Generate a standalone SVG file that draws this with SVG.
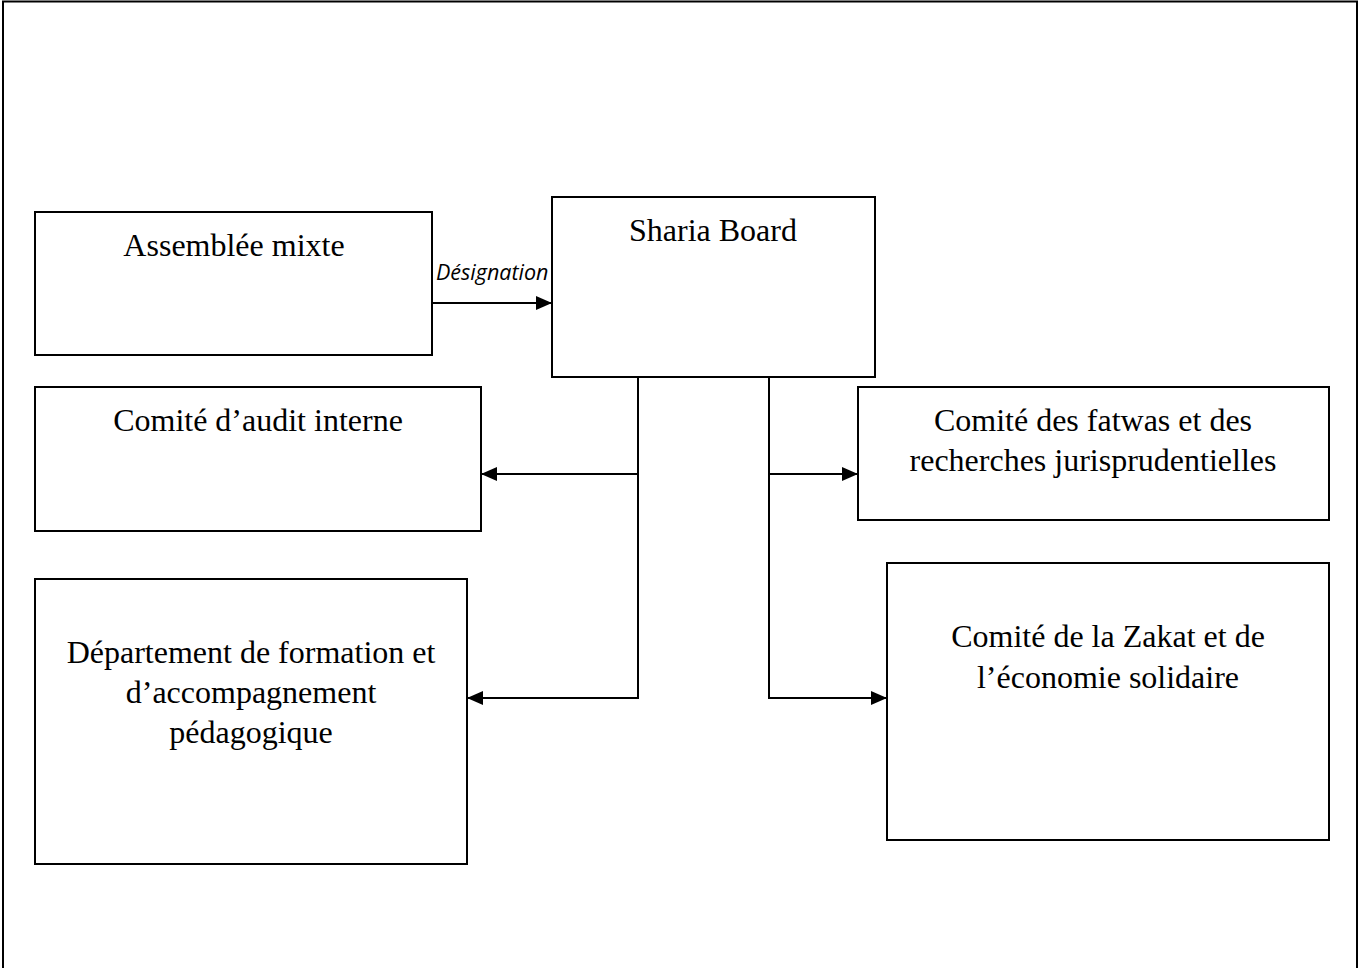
<svg xmlns="http://www.w3.org/2000/svg" width="1360" height="968" viewBox="0 0 1360 968">
<style>
.box{fill:#fff;stroke:#000;stroke-width:2}
.t{font-family:"Liberation Serif","Times New Roman",serif;font-size:32px;fill:#000;text-anchor:middle}
.c{fill:none;stroke:#000;stroke-width:2}
.lbl{font-family:"Open Sans","DejaVu Sans",sans-serif;font-style:italic;font-size:21.5px;fill:#000}
</style>
<defs>
<marker id="ah" markerWidth="16" markerHeight="14" refX="15" refY="7" orient="auto" markerUnits="userSpaceOnUse">
<path d="M0,0 L16,7 L0,14 Z" fill="#000"/>
</marker>
</defs>
<rect width="1360" height="968" fill="#fff"/>
<path d="M3,968 V1.5 H1357 V968" fill="none" stroke="#000" stroke-width="2"/>
<g id="assemblee"><rect class="box" x="35" y="212" width="397" height="143"/><text class="t" x="234" y="256">Assemblée mixte</text></g>
<g id="sharia"><rect class="box" x="552" y="197" width="323" height="180"/><text class="t" x="713" y="241">Sharia Board</text></g>
<g id="audit"><rect class="box" x="35" y="387" width="446" height="144"/><text class="t" x="258" y="431">Comité d’audit interne</text></g>
<g id="departement"><rect class="box" x="35" y="579" width="432" height="285"/><text class="t" x="251" y="663">Département de formation et</text><text class="t" x="251" y="703">d’accompagnement</text><text class="t" x="251" y="743">pédagogique</text></g>
<g id="fatwas"><rect class="box" x="858" y="387" width="471" height="133"/><text class="t" x="1093" y="431">Comité des fatwas et des</text><text class="t" x="1093" y="471">recherches jurisprudentielles</text></g>
<g id="zakat"><rect class="box" x="887" y="563" width="442" height="277"/><text class="t" x="1108" y="647">Comité de la Zakat et de</text><text class="t" x="1108" y="688">l’économie solidaire</text></g>
<g id="connectors">
<line class="c" x1="432" y1="303" x2="551" y2="303" marker-end="url(#ah)"/>
<text class="lbl" x="436" y="280">Désignation</text>
<line class="c" x1="638" y1="377" x2="638" y2="699"/>
<line class="c" x1="639" y1="474" x2="482" y2="474" marker-end="url(#ah)"/>
<line class="c" x1="639" y1="698" x2="468" y2="698" marker-end="url(#ah)"/>
<line class="c" x1="769" y1="377" x2="769" y2="699"/>
<line class="c" x1="768" y1="474" x2="857" y2="474" marker-end="url(#ah)"/>
<line class="c" x1="768" y1="698" x2="886" y2="698" marker-end="url(#ah)"/>
</g>
</svg>
